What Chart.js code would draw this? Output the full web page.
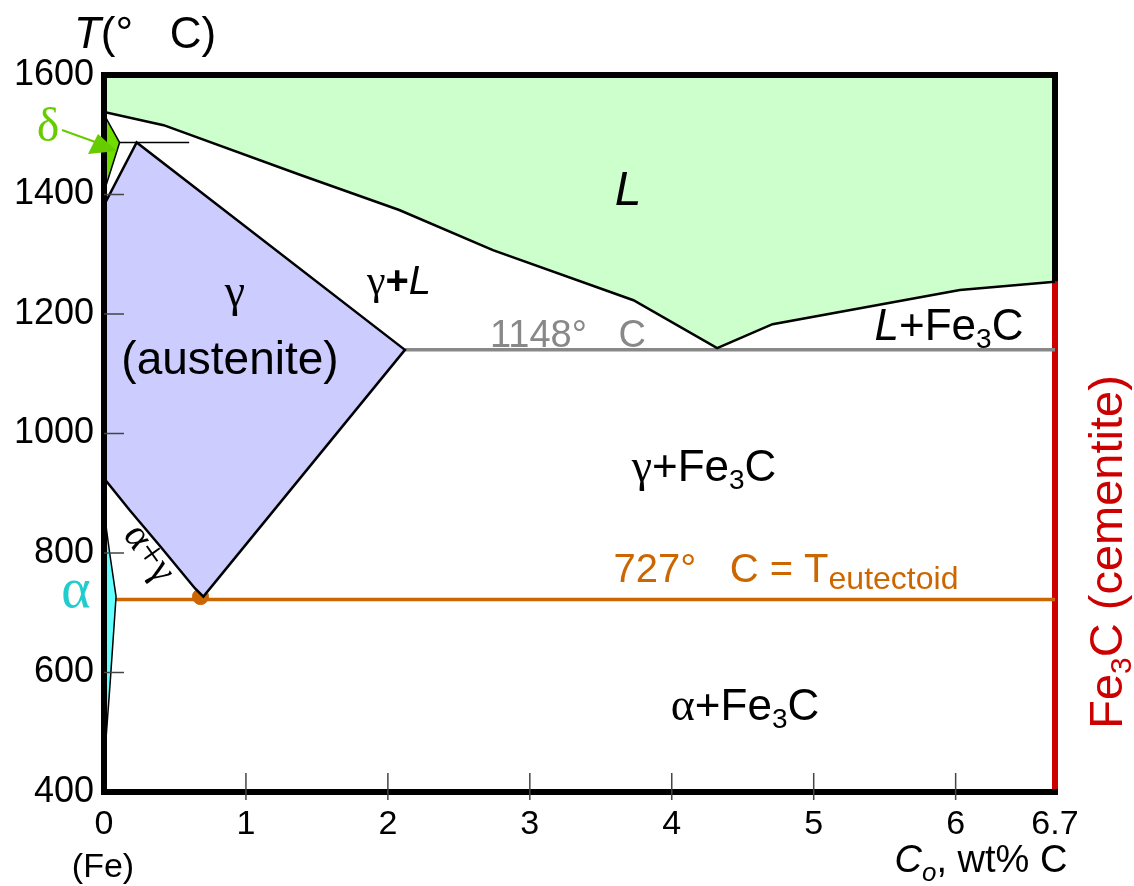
<!DOCTYPE html>
<html lang="en">
<head>
  <meta charset="UTF-8" />
  <title>Fe-Fe3C phase diagram</title>
  <script src="https://cdn.jsdelivr.net/npm/chart.js"></script>
  <style>
    body { margin: 0; background: #fff; }
    .wrap { width: 1134px; height: 886px; position: relative; }
  </style>
</head>
<body>
  <div class="wrap"><canvas id="phaseChart"></canvas></div>

  <script>
    // axis ticks
    const tempTicks = [400, 600, 800, 1000, 1200, 1400, 1600];
    const carbonTicks = [0, 1, 2, 3, 4, 5, 6, 6.7];

    // liquidus (lower edge of L region)
    const liquidusC = [0, 0.42, 1.38, 2.08, 2.74, 3.73, 4.32, 4.71, 6.03, 6.7];
    const liquidusT = [1538, 1516, 1433, 1374, 1307, 1223, 1143, 1183, 1240, 1254];

    // delta ferrite
    const deltaC = [0, 0.11, 0];
    const deltaT = [1534, 1487, 1404];

    // peritectic line
    const peritecticC = [0.11, 0.6];
    const peritecticT = [1487, 1487];

    // austenite field
    const austeniteC = [0, 0.23, 2.12, 0.7, 0.64, 0.39, 0.18, 0];
    const austeniteT = [1382, 1487, 1140, 727, 741, 813, 872, 925];

    // alpha ferrite
    const alphaC = [0, 0.04, 0.085, 0.045, 0.012, 0];
    const alphaT = [870, 800, 727, 588, 482, 400];

    // eutectic, eutectoid, cementite
    const eutecticC = [2.12, 6.7];
    const eutecticT = [1140, 1140];
    const eutectoidC = [0.085, 6.7];
    const eutectoidT = [722, 722];
    const cementiteC = [6.7, 6.7];
    const cementiteT = [1254, 400];
    const eutectoidPointC = [0.68];
    const eutectoidPointT = [727];

    const SANS = "'Liberation Sans', Arial, sans-serif";
    const SERIF = "'Liberation Serif', 'Times New Roman', serif";

    function pts(cs, ts) {
      return cs.map((c, i) => ({ x: c, y: ts[i] }));
    }

    const liquidRegion = [{ x: 0, y: 1600 }, ...pts(liquidusC, liquidusT), { x: 6.7, y: 1600 }];

    function rich(ctx, parts, cx, base, color) {
      let w = 0;
      parts.forEach(p => { ctx.font = p.f; w += ctx.measureText(p.t).width; });
      let px = cx - w / 2;
      ctx.fillStyle = color;
      ctx.textAlign = 'left';
      ctx.textBaseline = 'alphabetic';
      parts.forEach(p => {
        ctx.font = p.f;
        ctx.fillText(p.t, px, base + (p.dy || 0));
        px += ctx.measureText(p.t).width;
      });
    }

    const overlay = {
      id: 'overlay',
      afterDatasetsDraw(chart) {
        const { ctx, chartArea: a, scales: { x, y } } = chart;
        ctx.save();

        // frame (right side stops where the cementite line starts)
        ctx.strokeStyle = '#000';
        ctx.lineWidth = 6;
        ctx.lineJoin = 'miter';
        ctx.beginPath();
        ctx.moveTo(a.right, y.getPixelForValue(cementiteT[0]));
        ctx.lineTo(a.right, a.top);
        ctx.lineTo(a.left, a.top);
        ctx.lineTo(a.left, a.bottom);
        ctx.lineTo(a.right + 3, a.bottom);
        ctx.stroke();

        // small inner ticks
        ctx.strokeStyle = '#444';
        ctx.lineWidth = 1.5;
        carbonTicks.filter(v => v > 0 && v < 6.7).forEach(v => {
          const px = x.getPixelForValue(v);
          ctx.beginPath(); ctx.moveTo(px, a.bottom - 19); ctx.lineTo(px, a.bottom + 8); ctx.stroke();
        });
        tempTicks.filter(v => v > 400 && v < 1600).forEach(v => {
          const py = y.getPixelForValue(v);
          ctx.beginPath(); ctx.moveTo(a.left, py); ctx.lineTo(a.left + 20, py); ctx.stroke();
        });

        // axis titles
        rich(ctx, [{ t: 'T', f: `italic 44px ${SANS}` }, { t: '(°   C)', f: `44px ${SANS}` }], 145, 48, '#000');
        rich(ctx, [{ t: '(Fe)', f: `34px ${SANS}` }], 103, 877, '#000');
        rich(ctx, [
          { t: 'C', f: `italic 38px ${SANS}` },
          { t: 'o', f: `italic 26px ${SANS}`, dy: 9 },
          { t: ', wt% C', f: `38px ${SANS}` }
        ], 981, 872, '#000');

        // delta label and arrow
        rich(ctx, [{ t: 'δ', f: `48px ${SERIF}` }], 48, 141, '#66cc00');
        ctx.strokeStyle = '#66cc00';
        ctx.fillStyle = '#66cc00';
        ctx.lineWidth = 2;
        ctx.beginPath(); ctx.moveTo(62, 130); ctx.lineTo(98, 143); ctx.stroke();
        ctx.beginPath(); ctx.moveTo(117, 151); ctx.lineTo(88, 154); ctx.lineTo(98, 134); ctx.closePath(); ctx.fill();

        // alpha label
        rich(ctx, [{ t: 'α', f: `56px ${SERIF}` }], 76, 607, '#22cccc');

        // region labels
        rich(ctx, [{ t: 'L', f: `italic 48px ${SANS}` }], 628, 205, '#000');
        rich(ctx, [{ t: 'γ', f: `46px ${SERIF}` }], 235, 306, '#000');
        rich(ctx, [{ t: '(austenite)', f: `46px ${SANS}` }], 230, 374, '#000');
        rich(ctx, [
          { t: 'γ', f: `42px ${SERIF}` },
          { t: '+', f: `bold 40px ${SANS}` },
          { t: 'L', f: `italic 40px ${SANS}` }
        ], 399, 294, '#000');
        rich(ctx, [{ t: '1148°   C', f: `38px ${SANS}` }], 568, 347, '#888888');
        rich(ctx, [
          { t: 'L', f: `italic 44px ${SANS}` },
          { t: '+Fe', f: `44px ${SANS}` },
          { t: '3', f: `28px ${SANS}`, dy: 8 },
          { t: 'C', f: `44px ${SANS}` }
        ], 949, 340, '#000');
        rich(ctx, [
          { t: 'γ', f: `46px ${SERIF}` },
          { t: '+Fe', f: `44px ${SANS}` },
          { t: '3', f: `28px ${SANS}`, dy: 8 },
          { t: 'C', f: `44px ${SANS}` }
        ], 704, 481, '#000');
        rich(ctx, [
          { t: '727°   C = T', f: `40px ${SANS}` },
          { t: 'eutectoid', f: `32px ${SANS}`, dy: 7 }
        ], 786, 582, '#cc6600');
        rich(ctx, [
          { t: 'α', f: `46px ${SERIF}` },
          { t: '+Fe', f: `44px ${SANS}` },
          { t: '3', f: `28px ${SANS}`, dy: 8 },
          { t: 'C', f: `44px ${SANS}` }
        ], 745, 720, '#000');

        // alpha + gamma, rotated along the boundary
        ctx.save();
        ctx.translate(150, 553);
        ctx.rotate(55 * Math.PI / 180);
        rich(ctx, [{ t: 'α+γ', f: `40px ${SERIF}` }], 0, 12, '#000');
        ctx.restore();

        // cementite label, vertical
        ctx.save();
        ctx.translate(1122, 552);
        ctx.rotate(-Math.PI / 2);
        rich(ctx, [
          { t: 'Fe', f: `47px ${SANS}` },
          { t: '3', f: `30px ${SANS}`, dy: 9 },
          { t: 'C (cementite)', f: `47px ${SANS}` }
        ], 0, 0, '#cc0000');
        ctx.restore();

        ctx.restore();
      }
    };

    const ctx = document.getElementById('phaseChart').getContext('2d');
    new Chart(ctx, {
      type: 'line',
      data: {
        datasets: [
          { data: liquidRegion, fill: 'shape', backgroundColor: '#ccffcc', borderColor: '#000', borderWidth: 2.5 },
          { data: pts(austeniteC, austeniteT), fill: 'shape', backgroundColor: '#ccccff', borderColor: '#000', borderWidth: 2.5 },
          { data: pts(deltaC, deltaT), fill: 'shape', backgroundColor: '#70dd00', borderColor: '#000', borderWidth: 1.5 },
          { data: pts(alphaC, alphaT), fill: 'shape', backgroundColor: '#66ffff', borderColor: '#000', borderWidth: 1.5 },
          { data: pts(peritecticC, peritecticT), fill: false, borderColor: '#000', borderWidth: 1.5 },
          { data: pts(eutecticC, eutecticT), fill: false, borderColor: '#888888', borderWidth: 3.5 },
          { data: pts(eutectoidC, eutectoidT), fill: false, borderColor: '#cc6600', borderWidth: 3.5 },
          { data: pts(cementiteC, cementiteT), fill: false, borderColor: '#cc0000', borderWidth: 6, clip: false },
          { data: pts(eutectoidPointC, eutectoidPointT), showLine: false, pointRadius: 8,
            pointBackgroundColor: '#cc6600', pointBorderColor: '#cc6600' }
        ]
      },
      options: {
        responsive: true,
        maintainAspectRatio: false,
        animation: false,
        layout: { padding: { top: 75, right: 79, left: 0, bottom: 0 } },
        elements: { line: { tension: 0 }, point: { radius: 0 } },
        plugins: { legend: { display: false }, tooltip: { enabled: false } },
        scales: {
          x: {
            type: 'linear',
            min: 0,
            max: 6.7,
            grid: { display: false, drawTicks: false },
            border: { display: false },
            afterBuildTicks: s => { s.ticks = carbonTicks.map(v => ({ value: v })); },
            afterFit: s => { s.height = 94; },
            ticks: {
              autoSkip: false,
              maxRotation: 0,
              padding: 12,
              color: '#000',
              font: { family: SANS, size: 34 },
              callback: v => String(v)
            }
          },
          y: {
            min: 400,
            max: 1600,
            grid: { display: false, drawTicks: false },
            border: { display: false },
            afterBuildTicks: s => { s.ticks = tempTicks.map(v => ({ value: v })); },
            afterFit: s => { s.width = 104; },
            ticks: {
              padding: 10,
              color: '#000',
              font: { family: SANS, size: 36 },
              callback: v => String(v)
            }
          }
        }
      },
      plugins: [overlay]
    });
  </script>
</body>
</html>
